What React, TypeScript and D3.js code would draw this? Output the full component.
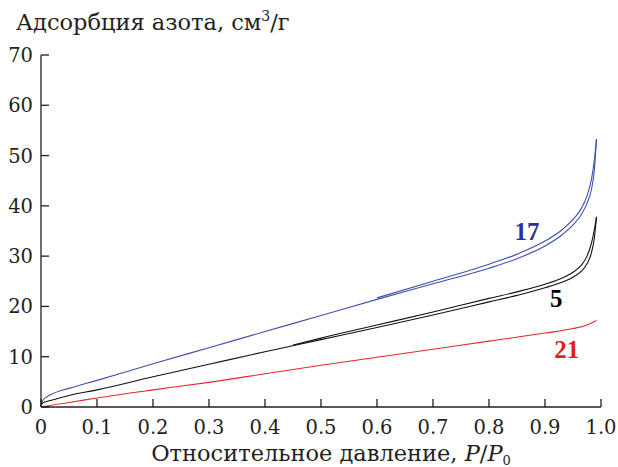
import React from "react";
import * as d3 from "d3";

// ---- data ----
const xTicks = [0, 0.1, 0.2, 0.3, 0.4, 0.5, 0.6, 0.7, 0.8, 0.9, 1.0];
const xTickLabels = ["0", "0.1", "0.2", "0.3", "0.4", "0.5", "0.6", "0.7", "0.8", "0.9", "1.0"];
const yTicks = [0, 10, 20, 30, 40, 50, 60, 70];
const yTickLabels = ["0", "10", "20", "30", "40", "50", "60", "70"];

// Sample 17 (blue)
const pBlueAds = [0, 0.003, 0.01, 0.02, 0.05, 0.1, 0.2, 0.3, 0.4, 0.5, 0.6, 0.7, 0.8, 0.85, 0.9, 0.93, 0.95, 0.965, 0.975, 0.983, 0.988, 0.992];
const vBlueAds = [0.6, 1.3, 2.0, 2.6, 3.7, 5.3, 8.6, 11.8, 15.0, 18.2, 21.4, 24.5, 27.6, 29.5, 32.0, 34.2, 36.2, 38.3, 40.5, 43.3, 47.0, 53.3];
const pBlueDes = [0.6, 0.7, 0.8, 0.85, 0.9, 0.93, 0.95, 0.965, 0.975, 0.983, 0.988, 0.992];
const vBlueDes = [21.7, 25.0, 28.4, 30.4, 33.0, 35.2, 37.3, 39.5, 42.0, 45.3, 49.0, 53.3];

// Sample 5 (black)
const pBlackAds = [0, 0.003, 0.01, 0.02, 0.05, 0.1, 0.2, 0.3, 0.4, 0.5, 0.6, 0.7, 0.8, 0.85, 0.9, 0.93, 0.95, 0.965, 0.975, 0.983, 0.988, 0.992];
const vBlackAds = [0.4, 0.8, 1.1, 1.4, 2.3, 3.4, 6.0, 8.5, 11.0, 13.4, 15.8, 18.3, 20.9, 22.2, 23.7, 24.8, 25.8, 27.0, 28.5, 30.7, 33.5, 37.8];
const pBlackDes = [0.45, 0.5, 0.6, 0.7, 0.8, 0.85, 0.9, 0.93, 0.95, 0.965, 0.975, 0.983, 0.988, 0.992];
const vBlackDes = [12.3, 13.7, 16.3, 18.9, 21.6, 22.9, 24.4, 25.6, 26.8, 28.2, 30.0, 32.6, 35.2, 37.8];

// Sample 21 (red)
const pRed = [0, 0.01, 0.02, 0.05, 0.1, 0.2, 0.3, 0.4, 0.5, 0.6, 0.7, 0.8, 0.9, 0.95, 0.975, 0.992];
const vRed = [0, 0.2, 0.4, 0.9, 1.8, 3.4, 4.9, 6.6, 8.3, 9.9, 11.5, 13.1, 14.7, 15.6, 16.3, 17.2];

// curve labels
const labelTexts = ["17", "5", "21"];
const labelP = [0.868, 0.92, 0.939];
const labelV = [33.2, 19.9, 9.8];
const labelColors = ["#2e3192", "#000000", "#e31e24"];

const FONT = "'DejaVu Serif', serif";
const FONT_BOLD = "'Liberation Serif', 'DejaVu Serif', serif";

const W = 618;
const H = 467;

export default function App() {
  const x = d3.scaleLinear().domain([0, 1]).range([41, 601]);
  const y = d3.scaleLinear().domain([0, 70]).range([407, 55]);

  const line = d3
    .line<[number, number]>()
    .x((d) => x(d[0]))
    .y((d) => y(d[1]))
    .curve(d3.curveMonotoneX);

  const zip = (a: number[], b: number[]) => a.map((p, i) => [p, b[i]] as [number, number]);

  const series = [
    { d: zip(pRed, vRed), color: "#e8262b" },
    { d: zip(pBlackAds, vBlackAds), color: "#111111" },
    { d: zip(pBlackDes, vBlackDes), color: "#111111" },
    { d: zip(pBlueAds, vBlueAds), color: "#4150ad" },
    { d: zip(pBlueDes, vBlueDes), color: "#4150ad" },
  ];

  const [x0, x1] = x.range();
  const [y0, y1] = y.range();
  const ts = { fontFamily: FONT } as React.CSSProperties;
  const tsb = { fontFamily: FONT_BOLD } as React.CSSProperties;

  return (
    <div style={{ position: "absolute", left: 0, top: 0 }}>
      <svg width={W} height={H} style={{ display: "block", background: "#fff" }}>
        {/* title */}
        <text x={16} y={30} fontSize={22.5} fill="#231f20" style={ts}>
          Адсорбция азота, см
          <tspan dy={-9} fontSize={14}>3</tspan>
          <tspan dy={9}>/г</tspan>
        </text>

        {/* curves */}
        {series.map((s, i) => (
          <path key={i} d={line(s.d) || ""} fill="none" stroke={s.color} strokeWidth={1.1} />
        ))}

        {/* axes */}
        <line x1={x0} y1={y0} x2={x1} y2={y0} stroke="#231f20" strokeWidth={1.3} />
        <line x1={x0} y1={y0} x2={x0} y2={y1} stroke="#231f20" strokeWidth={1.3} />
        {xTicks.map((t, i) => (
          <g key={"xt" + i}>
            <line x1={x(t)} x2={x(t)} y1={y0} y2={y0 - 8} stroke="#231f20" strokeWidth={1.3} />
            <text x={x(t)} y={434} fontSize={19.5} textAnchor="middle" fill="#231f20" style={ts}>
              {xTickLabels[i]}
            </text>
          </g>
        ))}
        {yTicks.map((t, i) => (
          <g key={"yt" + i}>
            <line x1={x0} x2={x0 + 8} y1={y(t)} y2={y(t)} stroke="#231f20" strokeWidth={1.3} />
            <text x={33} y={y(t) + 7} fontSize={19.5} textAnchor="end" fill="#231f20" style={ts}>
              {yTickLabels[i]}
            </text>
          </g>
        ))}

        {/* x axis title */}
        <text x={331} y={461} fontSize={22.5} textAnchor="middle" fill="#231f20" style={ts}>
          Относительное давление,{" "}
          <tspan fontStyle="italic">P</tspan>/<tspan fontStyle="italic">P</tspan>
          <tspan dy={4} fontSize={13}>0</tspan>
        </text>

        {/* curve labels */}
        {labelTexts.map((t, i) => (
          <text
            key={"lb" + i}
            x={x(labelP[i])}
            y={y(labelV[i])}
            fontSize={25}
            fontWeight="bold"
            textAnchor="middle"
            fill={labelColors[i]}
            style={tsb}
          >
            {t}
          </text>
        ))}
      </svg>
    </div>
  );
}
